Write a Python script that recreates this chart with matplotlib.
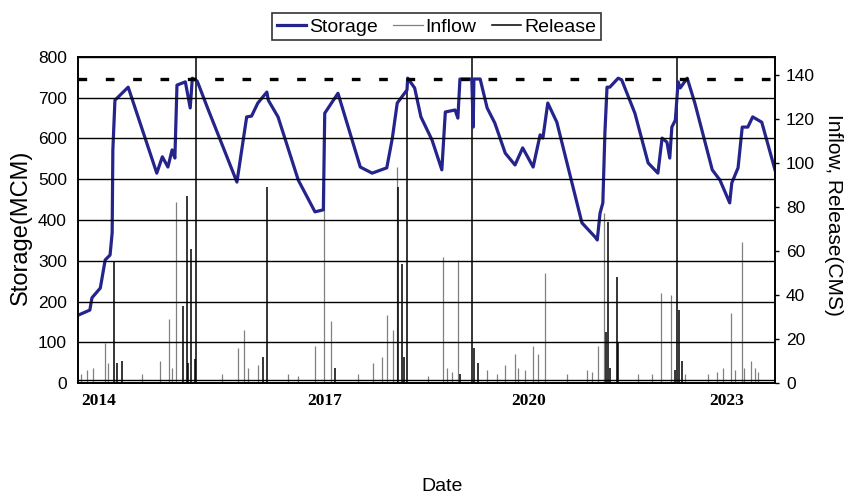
import matplotlib
matplotlib.use("Agg")
import matplotlib.pyplot as plt
from matplotlib.lines import Line2D

plt.rcParams["font.family"] = ["Liberation Sans", "DejaVu Sans"]

# ---- data (decimal years) ----
storage_t = [2013.76, 2013.92, 2013.95, 2014.07, 2014.14, 2014.21, 2014.24, 2014.25, 2014.28,
             2014.47, 2014.88, 2014.96, 2015.04, 2015.10, 2015.14, 2015.17, 2015.29, 2015.36,
             2015.39, 2015.46, 2015.62, 2015.82, 2016.03, 2016.17, 2016.24, 2016.33, 2016.46,
             2016.48, 2016.62, 2016.91, 2017.15, 2017.27, 2017.29, 2017.48, 2017.80, 2017.97,
             2018.18, 2018.26, 2018.33, 2018.47, 2018.48, 2018.58, 2018.67, 2018.83, 2018.97,
             2019.02, 2019.16, 2019.20, 2019.23, 2019.40, 2019.42, 2019.43, 2019.52, 2019.62,
             2019.73, 2019.88, 2020.02, 2020.13, 2020.28, 2020.38, 2020.42, 2020.49, 2020.62,
             2020.98, 2021.17, 2021.20, 2021.24, 2021.28, 2021.31, 2021.34, 2021.38, 2021.50,
             2021.55, 2021.74, 2021.93, 2022.07, 2022.13, 2022.20, 2022.24, 2022.27, 2022.32,
             2022.36, 2022.39, 2022.49, 2022.60, 2022.85, 2022.96, 2023.10, 2023.13, 2023.22,
             2023.28, 2023.36, 2023.43, 2023.56, 2023.75]
storage = [167, 179, 209, 233, 302, 314, 368, 572, 694,
           726, 515, 555, 530, 572, 552, 731, 739, 675,
           748, 741, 670, 584, 493, 653, 655, 687, 714,
           694, 653, 498, 420, 425, 662, 711, 530, 515,
           528, 601, 687, 719, 748, 724, 653, 596, 523,
           665, 670, 650, 746, 746, 628, 746, 746, 675,
           638, 564, 535, 577, 530, 609, 601, 687, 640,
           393, 358, 351, 417, 442, 616, 726, 726, 748,
           744, 662, 540, 515, 601, 591, 552, 628, 645,
           739, 724, 748, 687, 523, 498, 442, 491, 528,
           628, 628, 653, 640, 523]

inflow_t = [2013.79, 2013.88, 2013.97, 2014.14, 2014.18, 2014.67, 2014.93, 2015.06, 2015.10,
            2015.16, 2015.82, 2016.05, 2016.13, 2016.19, 2016.33, 2016.76, 2016.91, 2017.15,
            2017.28, 2017.38, 2017.77, 2017.98, 2018.11, 2018.18, 2018.27, 2018.33, 2018.77,
            2018.99, 2019.04, 2019.12, 2019.20, 2019.62, 2019.76, 2019.88, 2020.02, 2020.06,
            2020.16, 2020.28, 2020.35, 2020.45, 2020.77, 2021.05, 2021.12, 2021.21, 2021.30,
            2021.78, 2021.99, 2022.11, 2022.26, 2022.46, 2022.79, 2022.92, 2023.00, 2023.12,
            2023.18, 2023.28, 2023.31, 2023.41, 2023.46, 2023.51]
inflow = [4, 6, 7, 18, 9, 4, 10, 29, 7,
          82, 4, 16, 24, 7, 8, 4, 3, 17,
          90, 28, 4, 9, 12, 31, 24, 98, 3,
          57, 7, 5, 56, 6, 4, 8, 13, 7,
          6, 17, 13, 50, 4, 6, 5, 17, 77,
          4, 4, 41, 40, 4, 4, 5, 7, 32,
          6, 64, 7, 10, 7, 5]

release_t = [2014.27, 2014.31, 2014.38, 2015.26, 2015.31, 2015.33, 2015.37, 2015.43, 2015.44,
             2016.40, 2016.46, 2017.44, 2018.34, 2018.40, 2018.43, 2018.47, 2019.23, 2019.40,
             2019.43, 2019.49, 2021.33, 2021.35, 2021.38, 2021.48, 2021.50, 2022.32, 2022.34,
             2022.37, 2022.42]
release = [55, 9, 10, 35, 85, 9, 61, 11, 160,
           12, 89, 7, 89, 54, 12, 138, 4, 160,
           16, 9, 23, 73, 7, 48, 18, 6, 160,
           33, 10]
release_low = 1.2

max_storage = 745
year_ticks = [2014.05, 2017.29, 2020.21, 2023.06]
year_labels = ["2014", "2017", "2020", "2023"]

NAVY = "#24248c"

fig = plt.figure(figsize=(8.44, 4.95), dpi=100)
ax = fig.add_axes([78 / 844, 1 - 383 / 495, 697 / 844, 326 / 495])
ax2 = ax.twinx()
ax.set_zorder(ax2.get_zorder() + 1)
ax.patch.set_visible(False)

# flows on the right axis
ax2.vlines(inflow_t, 0, inflow, color="#808080", lw=0.9)
ax2.vlines(release_t, 0, release, color="black", lw=1.1)
ax2.axhline(release_low, color="black", lw=1.0)
ax2.set_ylim(0, 148)
ax2.set_yticks(range(0, 141, 20))
ax2.tick_params(axis="y", direction="out", length=3, width=1, pad=5, labelsize=12.5)

# storage on the left axis
ax.plot(storage_t, storage, color=NAVY, lw=2.3, solid_joinstyle="round")
ax.axhline(max_storage, color="black", lw=2.4, dashes=(2.6, 5.6))
ax.set_ylim(0, 800)
ax.set_xlim(2013.75, 2023.75)
ax.set_yticks(range(0, 801, 100))
ax.yaxis.grid(True, color="black", lw=1.0)
ax.set_axisbelow(False)
ax.tick_params(axis="y", length=0, pad=8, labelsize=12.5)
ax.set_xticks(year_ticks)
ax.set_xticklabels(year_labels, family="Liberation Serif", fontweight="bold", fontsize=12.5)
ax.tick_params(axis="x", length=0, pad=7)

for a in (ax, ax2):
    for s in a.spines.values():
        s.set_color("black")
        s.set_linewidth(1.2)

ax.set_ylabel("Storage(MCM)", fontsize=17)
ax.yaxis.set_label_coords(-0.066, 0.478)
ax2.set_ylabel("Inflow, Release(CMS)", fontsize=15, rotation=270, va="bottom")
ax2.yaxis.set_label_coords(1.07, 0.515)
ax.set_xlabel("Date", fontsize=14, va="top")
ax.xaxis.set_label_coords(0.522, -0.292)

handles = [Line2D([], [], color=NAVY, lw=2.3),
           Line2D([], [], color="#808080", lw=0.9),
           Line2D([], [], color="black", lw=1.1)]
leg = fig.legend(handles, ["Storage", "Inflow", "Release"], loc="center",
                 bbox_to_anchor=(436.5 / 844, 1 - 26.7 / 495), ncol=3, fontsize=14,
                 frameon=True, fancybox=False, edgecolor="black", handlelength=1.5,
                 handletextpad=0.15, columnspacing=0.8, borderpad=0.25)
leg.get_frame().set_linewidth(1.2)

fig.savefig("out.png", dpi=100, facecolor="white")
